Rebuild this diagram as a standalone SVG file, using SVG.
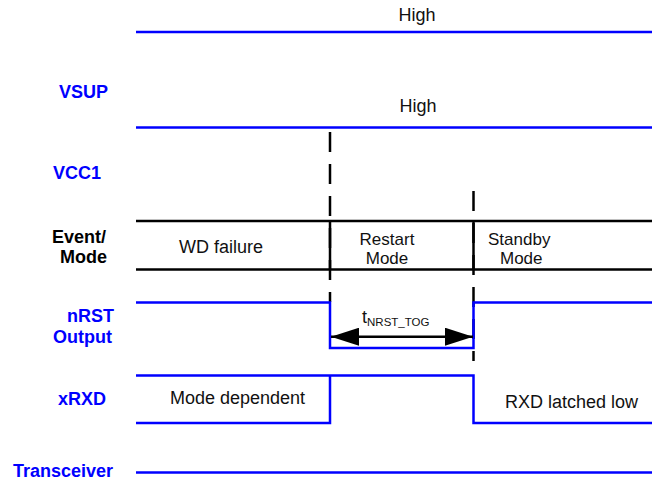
<svg xmlns="http://www.w3.org/2000/svg" width="652" height="479" viewBox="0 0 652 479">
<style>
.lbl{font-family:"Liberation Sans",Arial,sans-serif;font-weight:bold;font-size:18px;fill:#0000ff}
.lblk{font-family:"Liberation Sans",Arial,sans-serif;font-weight:bold;font-size:18px;fill:#000}
.t{font-family:"Liberation Sans",Arial,sans-serif;font-size:18px;fill:#111}
.t2{font-family:"Liberation Sans",Arial,sans-serif;font-size:17px;fill:#111}
.sig{fill:none;stroke:#0000ff;stroke-width:2.5}
.blk{fill:none;stroke:#000;stroke-width:2.5}
.dash{fill:none;stroke:#000;stroke-width:2.5;stroke-dasharray:20 12}
</style>
<defs>
<marker id="ah" viewBox="0 0 28 18" refX="28" refY="9" markerWidth="28" markerHeight="18" markerUnits="userSpaceOnUse" orient="auto-start-reverse">
<path d="M0,0 L28,9 L0,18 Z" fill="#000"/>
</marker>
</defs>
<g id="labels">
<text class="lbl" x="59" y="97.5">VSUP</text>
<text class="lbl" x="53" y="179">VCC1</text>
<text class="lblk"><tspan x="52" y="243">Event/</tspan><tspan x="60" y="263">Mode</tspan></text>
<text class="lbl"><tspan x="67" y="322">nRST</tspan><tspan x="53" y="343">Output</tspan></text>
<text class="lbl" x="58" y="405">xRXD</text>
<text class="lbl" x="13" y="476.5">Transceiver</text>
</g>
<g id="vsup">
<text class="t" x="417" y="21" text-anchor="middle">High</text>
</g>
<g id="vcc1">
<text class="t" x="418" y="112" text-anchor="middle">High</text>
</g>
<g id="mode">
<text class="t" x="221" y="253" text-anchor="middle">WD failure</text>
<text class="t2" text-anchor="middle"><tspan x="387" y="245">Restart</tspan><tspan x="387" y="264">Mode</tspan></text>
<text class="t2"><tspan x="488" y="245">Standby</tspan><tspan x="500" y="264">Mode</tspan></text>
</g>
<g id="nrst">
<text class="t" x="362" y="323">t<tspan font-size="11.5" dy="3">NRST_TOG</tspan></text>
</g>
<g id="xrxd">
<text class="t" x="170" y="404">Mode dependent</text>
<text class="t" x="505" y="408">RXD latched low</text>
</g>
<g id="connectors">
<line class="sig" x1="136" y1="32" x2="652" y2="32"/>
<line class="sig" x1="136" y1="127.5" x2="652" y2="127.5"/>
<line class="dash" x1="330" y1="132" x2="330" y2="302"/>
<line class="dash" x1="473.5" y1="191" x2="473.5" y2="361"/>
<line class="blk" x1="136" y1="221" x2="652" y2="221"/>
<line class="blk" x1="136" y1="269.5" x2="652" y2="269.5"/>
<line class="blk" x1="330" y1="221" x2="330" y2="269.5"/>
<line class="blk" x1="473.5" y1="221" x2="473.5" y2="269.5"/>
<polyline class="sig" points="136,302.5 330,302.5 330,348 473.5,348 473.5,302.5 652,302.5"/>
<line x1="331" y1="336.7" x2="473" y2="336.7" stroke="#000" stroke-width="2.5" marker-start="url(#ah)" marker-end="url(#ah)"/>
<polyline class="sig" points="136,375.5 473.5,375.5 473.5,423 652,423"/>
<polyline class="sig" points="136,423 330,423 330,375.5"/>
<line class="sig" x1="136" y1="472.5" x2="652" y2="472.5"/>
</g>
</svg>
